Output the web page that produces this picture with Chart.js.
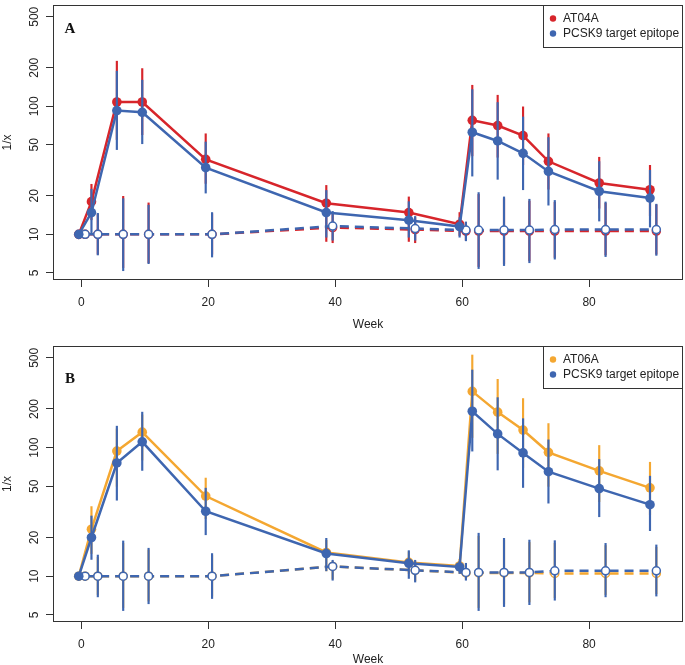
<!DOCTYPE html>
<html>
<head>
<meta charset="utf-8">
<script src="https://cdn.jsdelivr.net/npm/chart.js@4.4.1/dist/chart.umd.min.js"></script>
<style>
  html, body { margin: 0; padding: 0; background: #fff; overflow: hidden; }
  canvas { position: absolute; left: 0; }
</style>
</head>
<body>
<canvas id="chartA" width="685" height="335" style="top:0"></canvas>
<canvas id="chartB" width="685" height="335" style="top:335px"></canvas>
<script>
// weeks of sampling, shared by both panels
const weeks = [0, 2, 6, 10, 20, 39, 52, 60, 62, 66, 70, 74, 82, 90];
const xTicks = [0, 20, 40, 60, 80];
const yTicks = [5, 10, 20, 50, 100, 200, 500];

// Panel A: AT04A
const at04a   = [10, 18.0, 108, 108, 38.5, 17.5, 14.8, 12.0, 77.7, 70.7, 59, 37.2, 25.2, 22.3];
const at04aLo = [null, 13, 55, 60, 25, 8.8, 8.8, 9.8, 41, 40, 35, 22.5, 16, 14];
const at04aHi = [null, 24.6, 225, 197, 61, 24.1, 19.6, 14.8, 146, 122, 99, 61, 40, 34.6];
const pcskA   = [10, 14.8, 92.6, 89.8, 33.2, 14.8, 12.9, 11.5, 62.7, 53.6, 42.9, 31, 21.7, 19.2];
const pcskALo = [null, 10, 45.9, 51, 21, 9.5, 9.5, 9.5, 28.5, 26.9, 22.3, 16.9, 12.7, 11.4];
const pcskAHi = [null, 22.5, 188, 160, 52.6, 22, 18, 13.5, 135, 107, 82.5, 57, 37, 31.6];
const ctrlRedA   = [10, 10, 10, 10, 10, 11.3, 10.9, 10.6, 10.6, 10.6, 10.6, 10.6, 10.6, 10.6];
const ctrlRedALo = [null, 7, 5.5, 6.0, 7, 8.6, 8.6, 9, 5.6, 5.9, 6.2, 6.6, 6.9, 7];
const ctrlRedAHi = [null, 14.4, 19.8, 17.6, 14.5, 14.5, 13.5, 12.3, 20.5, 19, 18.2, 17.8, 17.5, 17];
const ctrlBlueA   = [10, 10, 10, 10, 10, 11.6, 11.1, 10.8, 10.8, 10.8, 10.8, 10.9, 10.9, 10.9];
const ctrlBlueALo = [null, 6.9, 5.2, 5.9, 6.65, 9.0, 9.0, 8.9, 5.4, 5.7, 6.0, 6.4, 6.7, 6.85];
const ctrlBlueAHi = [null, 14.6, 19, 16.9, 14.8, 15.1, 13.8, 12.5, 21.2, 19.6, 18.8, 18.4, 17.9, 17.2];

// Panel B: AT06A
const at06a   = [10, 23.2, 94, 132, 42, 15.3, 12.8, 12.0, 274, 189, 137, 92, 66, 48.7];
const at06aLo = [null, 15, 50, 80, 28, 11, 10.5, 10.5, 120, 90, 70, 50, 38, 30];
const at06aHi = [null, 34.8, 140, 180, 58, 19, 15.5, 13.5, 526, 340, 241, 154, 104, 77];
const pcskB   = [10, 20, 76, 111, 32, 15.0, 12.6, 11.8, 192, 128, 91, 65, 48, 36];
const pcskBLo = [null, 13.5, 39, 66.5, 21, 11, 9.6, 10.5, 94, 67, 49, 37, 29, 22.6];
const pcskBHi = [null, 29.4, 147, 189, 48.4, 19.7, 15.8, 13, 402, 245, 168, 115, 81, 60];
const ctrlOrB   = [10, 10, 10, 10, 10, 11.9, 11.1, 10.6, 10.6, 10.6, 10.6, 10.5, 10.5, 10.5];
const ctrlOrBLo = [null, 7.2, 5.7, 6.4, 7, 9.5, 9.2, 9.5, 5.7, 6.1, 6.3, 6.8, 7.2, 7.3];
const ctrlOrBHi = [null, 14, 18, 16, 14.5, 13, 13, 12.3, 20.5, 19, 18.3, 18, 17.3, 16.8];
const ctrlBlueB   = [10, 10, 10, 10, 10, 11.9, 11.1, 10.7, 10.7, 10.7, 10.7, 11.0, 11.0, 11.0];
const ctrlBlueBLo = [null, 6.9, 5.4, 6.1, 6.7, 9.3, 9.0, 9.3, 5.4, 5.8, 6.0, 6.5, 6.9, 7.0];
const ctrlBlueBHi = [null, 14.6, 18.8, 16.5, 15.0, 13.3, 13.3, 12.6, 21.6, 19.7, 19.1, 18.9, 18.0, 17.5];

const RED = '#d7252b', BLUE = '#3e66b0', ORANGE = '#f4a731', INK = '#222';
const SOLID_DX = -0.4, OPEN_DX = 0.6;   // side-by-side dodge of the two groups

Chart.defaults.font.family = '"Liberation Sans", Arial, Helvetica, sans-serif';
Chart.defaults.font.size = 12;
Chart.defaults.color = INK;

function pts(vals, dx) {
    return weeks.map((w, i) => ({x: w + dx, y: vals[i]}));
}
function bars(lo, hi, dx) {
    const out = [];
    weeks.forEach((w, i) => { if (lo[i] != null) out.push({x: w + dx, y: [lo[i], hi[i]]}); });
    return out;
}
function errDs(lo, hi, dx, color, order) {
    return {type: 'bar', data: bars(lo, hi, dx), backgroundColor: color, borderWidth: 0,
            barThickness: 1.5, grouped: false, order: order};
}
function lineDs(label, vals, dx, color, open, order) {
    return {type: 'line', label: label, data: pts(vals, dx), borderColor: color, borderWidth: 2.5,
            borderDash: open ? [9, 6] : [], pointRadius: open ? 4 : 4.8,
            pointBackgroundColor: open ? '#fff' : color, pointBorderColor: color,
            pointBorderWidth: open ? 1.5 : 0, tension: 0, fill: false, order: order};
}

// box, legend and panel letter
const decor = {
    id: 'decor',
    afterDraw(chart, args, o) {
        const {ctx, chartArea: a} = chart;
        ctx.save();
        ctx.strokeStyle = '#333';
        ctx.lineWidth = 1;
        ctx.strokeRect(a.left + 0.5, a.top + 0.5, a.right - a.left - 1, a.bottom - a.top - 1);
        // legend
        const lx = a.right - 140, ly = a.top;
        ctx.strokeRect(lx + 0.5, ly + 0.5, 139, 42);
        ctx.font = '12px "Liberation Sans", Arial, sans-serif';
        ctx.textBaseline = 'middle';
        o.items.forEach((it, k) => {
            const cy = ly + 13.5 + k * 15;
            ctx.fillStyle = it.color;
            ctx.beginPath(); ctx.arc(lx + 10, cy, 3.2, 0, Math.PI * 2); ctx.fill();
            ctx.fillStyle = INK;
            ctx.fillText(it.text, lx + 20, cy);
        });
        // panel letter
        ctx.font = 'bold 15px "Liberation Serif", "Times New Roman", serif';
        ctx.textAlign = 'center';
        ctx.fillStyle = '#111';
        ctx.fillText(o.letter, a.left + 17, a.top + o.letterDy);
        ctx.restore();
    }
};

function axisGrid() {
    return {display: true, offset: false, drawOnChartArea: false, drawTicks: true,
            tickLength: 7, tickWidth: 1, tickColor: '#333'};
}

function makeChart(id, p) {
    return new Chart(document.getElementById(id), {
        type: 'line',
        data: {datasets: [
            errDs(p.ctrlRLo, p.ctrlRHi, OPEN_DX, p.color, 8),
            errDs(p.mainLo, p.mainHi, SOLID_DX, p.color, 7),
            lineDs('', p.ctrlR, OPEN_DX, p.color, true, 6),
            lineDs(p.name, p.main, SOLID_DX, p.color, false, 5),
            errDs(p.ctrlBLo, p.ctrlBHi, OPEN_DX, BLUE, 4),
            errDs(p.pcskLo, p.pcskHi, SOLID_DX, BLUE, 3),
            lineDs('', p.ctrlB, OPEN_DX, BLUE, true, 2),
            lineDs('PCSK9 target epitope', p.pcsk, SOLID_DX, BLUE, false, 1)
        ]},
        options: {
            responsive: false, animation: false,
            layout: {autoPadding: false, padding: {left: 0, right: 2, top: p.top, bottom: 0}},
            plugins: {
                legend: {display: false}, tooltip: {enabled: false},
                decor: {letter: p.letter, letterDy: p.letterDy,
                        items: [{text: p.name, color: p.color}, {text: 'PCSK9 target epitope', color: BLUE}]}
            },
            scales: {
                x: {
                    type: 'linear', min: -4.46, max: 94.8, offset: false,
                    afterBuildTicks: s => { s.ticks = xTicks.map(v => ({value: v})); },
                    afterFit: s => { s.height = p.xh; s.paddingLeft = 0; s.paddingRight = 0; },
                    grid: axisGrid(), border: {display: false},
                    ticks: {padding: 8, maxRotation: 0, autoSkip: false},
                    title: {display: true, text: 'Week', padding: {top: 0, bottom: 3}}
                },
                y: {
                    type: 'logarithmic', min: 4.4, max: 618, offset: false,
                    afterBuildTicks: s => { s.ticks = yTicks.map(v => ({value: v})); },
                    afterFit: s => { s.width = 53; s.paddingTop = 0; s.paddingBottom = 0; },
                    grid: axisGrid(), border: {display: false},
                    ticks: {minRotation: 90, maxRotation: 90, crossAlign: 'center', padding: 1,
                            autoSkip: false, callback: v => String(v)},
                    title: {display: true, text: '1/x', padding: {top: 0, bottom: 0}}
                }
            }
        },
        plugins: [decor]
    });
}

makeChart('chartA', {
    name: 'AT04A', color: RED, letter: 'A', letterDy: 24, top: 5, xh: 55,
    main: at04a, mainLo: at04aLo, mainHi: at04aHi,
    pcsk: pcskA, pcskLo: pcskALo, pcskHi: pcskAHi,
    ctrlR: ctrlRedA, ctrlRLo: ctrlRedALo, ctrlRHi: ctrlRedAHi,
    ctrlB: ctrlBlueA, ctrlBLo: ctrlBlueALo, ctrlBHi: ctrlBlueAHi
});
makeChart('chartB', {
    name: 'AT06A', color: ORANGE, letter: 'B', letterDy: 33, top: 11, xh: 48,
    main: at06a, mainLo: at06aLo, mainHi: at06aHi,
    pcsk: pcskB, pcskLo: pcskBLo, pcskHi: pcskBHi,
    ctrlR: ctrlOrB, ctrlRLo: ctrlOrBLo, ctrlRHi: ctrlOrBHi,
    ctrlB: ctrlBlueB, ctrlBLo: ctrlBlueBLo, ctrlBHi: ctrlBlueBHi
});
</script>
</body>
</html>
